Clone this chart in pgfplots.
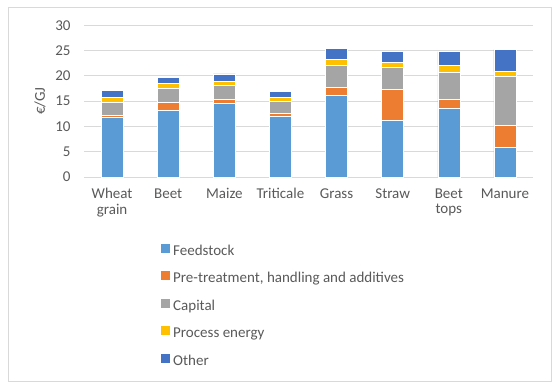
\documentclass[border=0pt]{standalone}
\usepackage{fontspec}
\setmainfont{Carlito}
\usepackage{pgfplots}
\pgfplotsset{compat=1.18}
\definecolor{cfeed}{HTML}{5B9BD5}
\definecolor{cpre}{HTML}{ED7D31}
\definecolor{ccap}{HTML}{A5A5A5}
\definecolor{cener}{HTML}{FFC000}
\definecolor{coth}{HTML}{4472C4}
\definecolor{ctext}{HTML}{595959}
\definecolor{cgrid}{HTML}{D9D9D9}
\begin{document}
\begin{tikzpicture}[font=\fontsize{15bp}{16bp}\selectfont]
\begin{axis}[
  name=ax, at={(0,0)}, anchor=south west,
  scale only axis, width=449bp, height=151.7bp,
  ybar stacked, bar width=22bp,
  xmin=-0.5, xmax=7.5, ymin=0, ymax=30,
  ytick={0,5,...,30},
  xtick={0,...,7},
  xticklabels={Wheat\\grain,Beet,Maize,Triticale,Grass,Straw,Beet\\tops,Manure},
  xticklabel style={align=center, text=ctext, font=\fontsize{15bp}{15.5bp}\selectfont},
  yticklabel style={text=ctext},
  /pgf/number format/assume math mode=true,
  major tick length=0pt,
  yticklabel shift=10bp,
  xticklabel shift=8bp,
  axis line style={draw=none},
  ymajorgrids, grid style={cgrid, line width=0.75bp},
  every axis y label/.style={at={(axis description cs:0,0.5)}, xshift=-44bp, rotate=90, anchor=center, text=ctext},
  ylabel={€/GJ},
  legend cell align=left,
  legend style={at={(axis description cs:0.1715,-0.44)}, anchor=north west, draw=none, fill=none,
    inner sep=0pt, row sep=12bp, column sep=3bp,
    nodes={inner sep=0pt, text height=11bp, text depth=4bp, text=ctext}},
  legend image code/.code={\fill[#1,draw=none] (0bp,-1bp) rectangle (9bp,8bp);},
  every axis plot/.append style={draw=white, line width=0.4bp},
]
\addplot[fill=cfeed] coordinates {(0,11.8) (1,13.18) (2,14.57) (3,11.93) (4,16.08) (5,11.2) (6,13.58) (7,5.8)};
\addplot[fill=cpre] coordinates {(0,0.4) (1,1.65) (2,0.79) (3,0.66) (4,1.59) (5,6.14) (6,1.78) (7,4.35)};
\addplot[fill=ccap] coordinates {(0,2.63) (1,2.64) (2,2.70) (3,2.31) (4,4.35) (5,4.28) (6,5.27) (7,9.69)};
\addplot[fill=cener] coordinates {(0,0.93) (1,0.99) (2,0.92) (3,0.92) (4,1.18) (5,1.12) (6,1.45) (7,0.99)};
\addplot[fill=coth] coordinates {(0,1.31) (1,1.25) (2,1.39) (3,1.06) (4,2.31) (5,2.05) (6,2.71) (7,4.35)};
\legend{Feedstock,{Pre-treatment, handling and additives},Capital,Process energy,Other}
\end{axis}
\draw[cgrid, line width=0.75bp] ([xshift=-76bp,yshift=-204bp]ax.south west) rectangle ([xshift=467bp,yshift=170bp]ax.south west);
\pgfresetboundingbox
\path[use as bounding box] ([xshift=-84bp,yshift=-213bp]ax.south west) rectangle ([xshift=475bp,yshift=177bp]ax.south west);
\end{tikzpicture}
\end{document}
